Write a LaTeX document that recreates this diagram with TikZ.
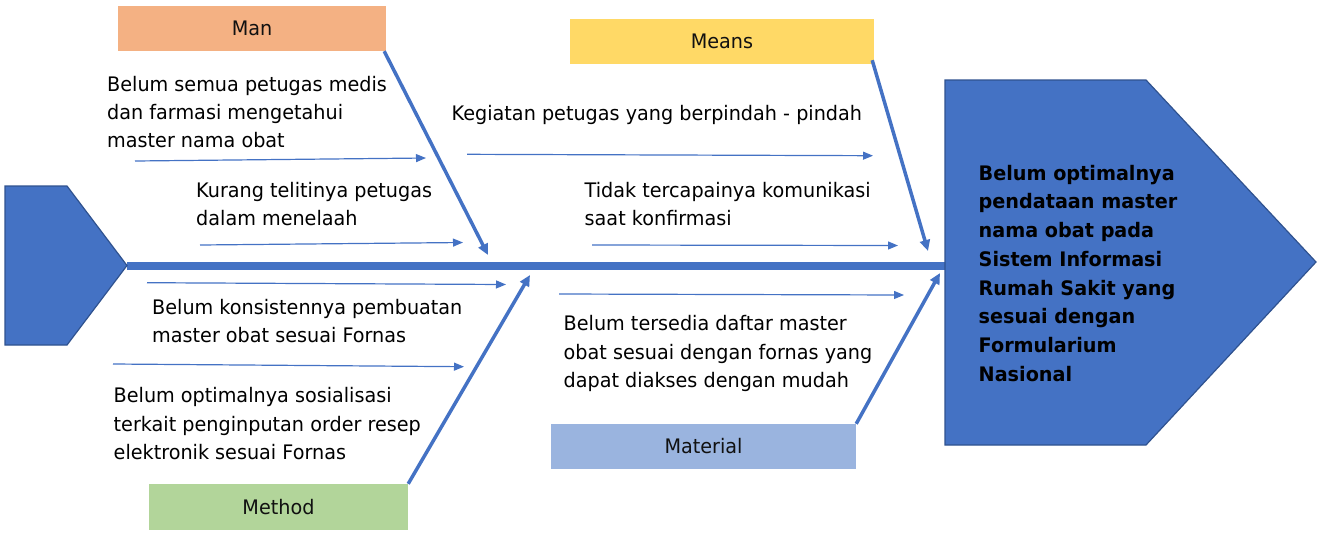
\documentclass[tikz,border=0pt]{standalone}
\usepackage{fontspec}
\setmainfont{DejaVu Sans}[FakeStretch=0.96]
\usetikzlibrary{arrows.meta}
\definecolor{fishblue}{HTML}{4472C4}
\definecolor{fishedge}{HTML}{2F528F}
\definecolor{manfill}{HTML}{F4B183}
\definecolor{meansfill}{HTML}{FFD966}
\definecolor{methodfill}{HTML}{B2D59A}
\definecolor{matfill}{HTML}{9AB4DF}
\definecolor{labeltext}{HTML}{111111}
\tikzset{
  catbox/.style={fill=#1, draw=none, inner sep=0pt, font=\fontsize{20}{24}\selectfont, text=labeltext},
  bone/.style={draw=fishblue, line width=3.5pt, -{Triangle[length=11pt,width=10pt]}},
  twig/.style={draw=fishblue, line width=1.2pt, -{Triangle[length=10pt,width=8pt]}},
  causetext/.style={anchor=north west, inner sep=0pt, align=left, font=\fontsize{20}{28.3}\selectfont},
  fishpart/.style={fill=fishblue, draw=fishedge, line width=1.2pt},
}
\begin{document}
\begin{tikzpicture}[x=1pt, y=-1pt]
\useasboundingbox (0,0) rectangle (1319,536);

% spine
\coordinate (tailtip) at (127,265.5);
\coordinate (headleft) at (945,265.5);
\draw[fishblue, line width=8pt] (tailtip) -- (headleft);

% tail and head
\draw[fishpart] (5,186) -- (67,186) -- (tailtip) -- (67,345) -- (5,345) -- cycle;
\draw[fishpart] (945,80) -- (1146,80) -- (1316,262) -- (1146,445) -- (945,445) -- cycle;
\node[anchor=north west, inner sep=0pt, align=left, font=\bfseries\fontsize{20}{28.7}\selectfont, text=black] (effect) at (978.5,164.8)
  {Belum optimalnya\\pendataan master\\nama obat pada\\Sistem Informasi\\Rumah Sakit yang\\sesuai dengan\\Formularium\\Nasional};

% category boxes
\node[catbox=manfill, minimum width=268pt, minimum height=45pt] (man) at (252,28.5) {Man};
\node[catbox=meansfill, minimum width=304pt, minimum height=45pt] (means) at (722,41.5) {Means};
\node[catbox=methodfill, minimum width=259pt, minimum height=46pt] (method) at (278.5,507) {Method};
\node[catbox=matfill, minimum width=305pt, minimum height=45pt] (material) at (703.5,446.5) {Material};

% bones
\coordinate (manTip) at (488,255);
\coordinate (meansTip) at (928,251);
\coordinate (methodTip) at (530,275);
\coordinate (materialTip) at (940,273);
\draw[bone] ([xshift=-2pt]man.south east) -- (manTip);
\draw[bone] ([xshift=-2pt,yshift=4pt]means.south east) -- (meansTip);
\draw[bone] (method.north east) -- (methodTip);
\draw[bone] (material.north east) -- (materialTip);

% cause texts
\node[causetext] (c1) at (107,75.8) {Belum semua petugas medis\\dan farmasi mengetahui\\master nama obat};
\node[causetext] (c2) at (196,181.8) {Kurang telitinya petugas\\dalam menelaah};
\node[causetext] (c3) at (451.5,105.5) {Kegiatan petugas yang berpindah - pindah};
\node[causetext] (c4) at (584.5,181.8) {Tidak tercapainya komunikasi\\saat konfirmasi};
\node[causetext] (c5) at (152,298.8) {Belum konsistennya pembuatan\\master obat sesuai Fornas};
\node[causetext] (c6) at (113.5,387.5) {Belum optimalnya sosialisasi\\terkait penginputan order resep\\elektronik sesuai Fornas};
\node[causetext] (c7) at (563.5,315.5) {Belum tersedia daftar master\\obat sesuai dengan fornas yang\\dapat diakses dengan mudah};

% twigs
\coordinate (t1a) at (135,161);   \coordinate (t1b) at (426,158);
\coordinate (t2a) at (200,245);   \coordinate (t2b) at (463,242.5);
\coordinate (t3a) at (467,154.3); \coordinate (t3b) at (873,155.7);
\coordinate (t4a) at (592,245);   \coordinate (t4b) at (898,245.5);
\coordinate (t5a) at (147,282.7); \coordinate (t5b) at (506,284.5);
\coordinate (t6a) at (113,364);   \coordinate (t6b) at (464,366.7);
\coordinate (t7a) at (559,294);   \coordinate (t7b) at (904,295);
\foreach \i in {1,...,7} { \draw[twig] (t\i a) -- (t\i b); }
\end{tikzpicture}
\end{document}
